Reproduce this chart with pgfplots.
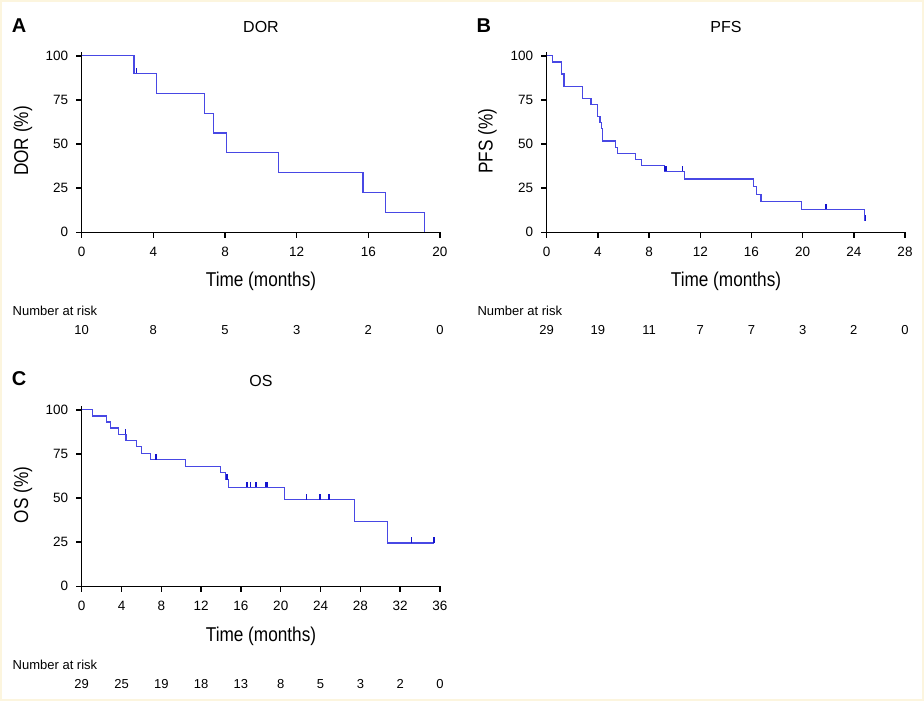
\documentclass[border=0pt]{standalone}
\usepackage{fontspec}
\setmainfont{Liberation Sans}
\newfontfamily\cond[FakeStretch=0.86]{Liberation Sans}
\usepackage{pgfplots}
\pgfplotsset{compat=1.18}
\definecolor{kmblue}{RGB}{72,72,228}
\definecolor{cblue}{RGB}{20,20,205}
\definecolor{frame}{RGB}{252,245,222}
\pgfdeclareplotmark{cens}{\pgfpathmoveto{\pgfpointorigin}\pgfpathlineto{\pgfpoint{0pt}{5.5pt}}\pgfusepathqstroke}
\pgfplotsset{
  kmaxis/.style={
    scale only axis, width=358.3pt, height=180pt, anchor=south west,
    ymin=0, ymax=102, ytick={0,25,50,75,100},
    axis x line*=bottom, axis y line*=left,
    axis line style={line width=1.5pt, black, -},
    tick align=outside, major tick length=5.5pt,
    tick style={line width=1.4pt, black},
    ticklabel style={font=\fontsize{13.5}{15}\selectfont},
    yticklabel style={xshift=-4.5pt},
    xticklabel style={yshift=-5.5pt},
    /pgf/number format/assume math mode=true,
    clip=false,
  },
  kmline/.style={kmblue, line width=1.2pt, const plot, mark=none},
  censor/.style={only marks, mark=cens, mark options={cblue, line width=1.6pt}},
}
\tikzset{risk/.style={font=\fontsize{13}{15}\selectfont, yshift=-97.5pt, inner sep=0pt}}
\newcommand{\lab}{\fontsize{20}{24}\selectfont\cond}
\newcommand{\ttl}{\fontsize{16}{19}\selectfont}
\newcommand{\letter}{\fontsize{20}{24}\selectfont\bfseries}
\newcommand{\risktxt}{\fontsize{13}{15}\selectfont}
\begin{document}
\begin{tikzpicture}[x=1pt, y=-1pt]
\path[use as bounding box, fill=white] (0,0) rectangle (924,701);
\draw[frame, line width=2pt] (1,1) rectangle (923,700);

% ---------------- Panel A: DOR ----------------
\begin{axis}[kmaxis, at={(81.7pt,-232.3pt)}, xmin=0, xmax=20, xtick={0,4,...,20}]
\addplot[kmline] coordinates {(0,100) (2.92,90) (4.19,78.75) (6.84,67.5) (7.35,56.25) (8.10,45) (11.0,33.75) (15.70,22.5) (16.98,11.25) (19.13,0)};
\addplot[censor] coordinates {(3.05,90)};
\node[risk] at (axis cs:0,0) {10};
\node[risk] at (axis cs:4,0) {8};
\node[risk] at (axis cs:8,0) {5};
\node[risk] at (axis cs:12,0) {3};
\node[risk] at (axis cs:16,0) {2};
\node[risk] at (axis cs:20,0) {0};
\end{axis}
\node[anchor=west, inner sep=0pt] at (11.8,25.3) {\letter A};
\node[inner sep=0pt] at (261,26.7) {\ttl DOR};
\node[anchor=base, inner sep=0pt] at (261,286.5) {\lab Time (months)};
\node[rotate=90, inner sep=0pt] at (23,141) {\lab DOR (\%)};
\node[anchor=west, inner sep=0pt] at (12.5,310.5) {\risktxt Number at risk};

% ---------------- Panel B: PFS ----------------
\begin{axis}[kmaxis, at={(546.7pt,-232.3pt)}, xmin=0, xmax=28, xtick={0,4,...,28}]
\addplot[kmline] coordinates {(0,100) (0.44,96.55) (1.14,89.66) (1.35,82.76) (2.78,75.86) (3.46,72.41) (3.98,65.52) (4.16,62.07) (4.30,58.62) (4.37,51.72) (5.39,48.28) (5.55,44.83) (6.95,41.38) (7.39,37.93) (9.22,34.48) (10.78,30.17) (16.17,25.86) (16.40,21.55) (16.74,17.24) (19.92,12.93) (24.85,6.47) (24.92,6.47)};
\addplot[censor] coordinates {(9.25,34.48) (9.32,34.48) (10.60,34.48) (21.82,12.93) (24.92,6.47)};
\node[risk] at (axis cs:0,0) {29};
\node[risk] at (axis cs:4,0) {19};
\node[risk] at (axis cs:8,0) {11};
\node[risk] at (axis cs:12,0) {7};
\node[risk] at (axis cs:16,0) {7};
\node[risk] at (axis cs:20,0) {3};
\node[risk] at (axis cs:24,0) {2};
\node[risk] at (axis cs:28,0) {0};
\end{axis}
\node[anchor=west, inner sep=0pt] at (476.5,25.3) {\letter B};
\node[inner sep=0pt] at (726,26.7) {\ttl PFS};
\node[anchor=base, inner sep=0pt] at (726,286.5) {\lab Time (months)};
\node[rotate=90, inner sep=0pt] at (487.5,141) {\lab PFS (\%)};
\node[anchor=west, inner sep=0pt] at (477.3,310.5) {\risktxt Number at risk};

% ---------------- Panel C: OS ----------------
\begin{axis}[kmaxis, at={(81.7pt,-586.3pt)}, xmin=0, xmax=36, xtick={0,4,...,36}]
\addplot[kmline] coordinates {(0,100) (1.10,96.55) (2.48,93.10) (2.88,89.66) (3.69,86.21) (4.46,82.62) (5.53,79.03) (6.00,75.44) (6.90,71.85) (10.42,68.07) (13.94,64.29) (14.45,60.51) (14.72,56.19) (20.37,49.17) (27.40,36.88) (30.75,24.59) (35.38,24.59)};
\addplot[censor] coordinates {(4.42,86.21) (7.44,71.85) (14.55,60.51) (14.60,60.51) (16.58,56.19) (16.95,56.19) (17.49,56.19) (18.53,56.19) (18.60,56.19) (22.58,49.17) (23.95,49.17) (24.86,49.17) (33.13,24.59) (35.38,24.59)};
\node[risk] at (axis cs:0,0) {29};
\node[risk] at (axis cs:4,0) {25};
\node[risk] at (axis cs:8,0) {19};
\node[risk] at (axis cs:12,0) {18};
\node[risk] at (axis cs:16,0) {13};
\node[risk] at (axis cs:20,0) {8};
\node[risk] at (axis cs:24,0) {5};
\node[risk] at (axis cs:28,0) {3};
\node[risk] at (axis cs:32,0) {2};
\node[risk] at (axis cs:36,0) {0};
\end{axis}
\node[anchor=west, inner sep=0pt] at (11.8,378.3) {\letter C};
\node[inner sep=0pt] at (261,381) {\ttl OS};
\node[anchor=base, inner sep=0pt] at (261,641) {\lab Time (months)};
\node[rotate=90, inner sep=0pt] at (23,495) {\lab OS (\%)};
\node[anchor=west, inner sep=0pt] at (12.5,664.5) {\risktxt Number at risk};
\end{tikzpicture}
\end{document}
